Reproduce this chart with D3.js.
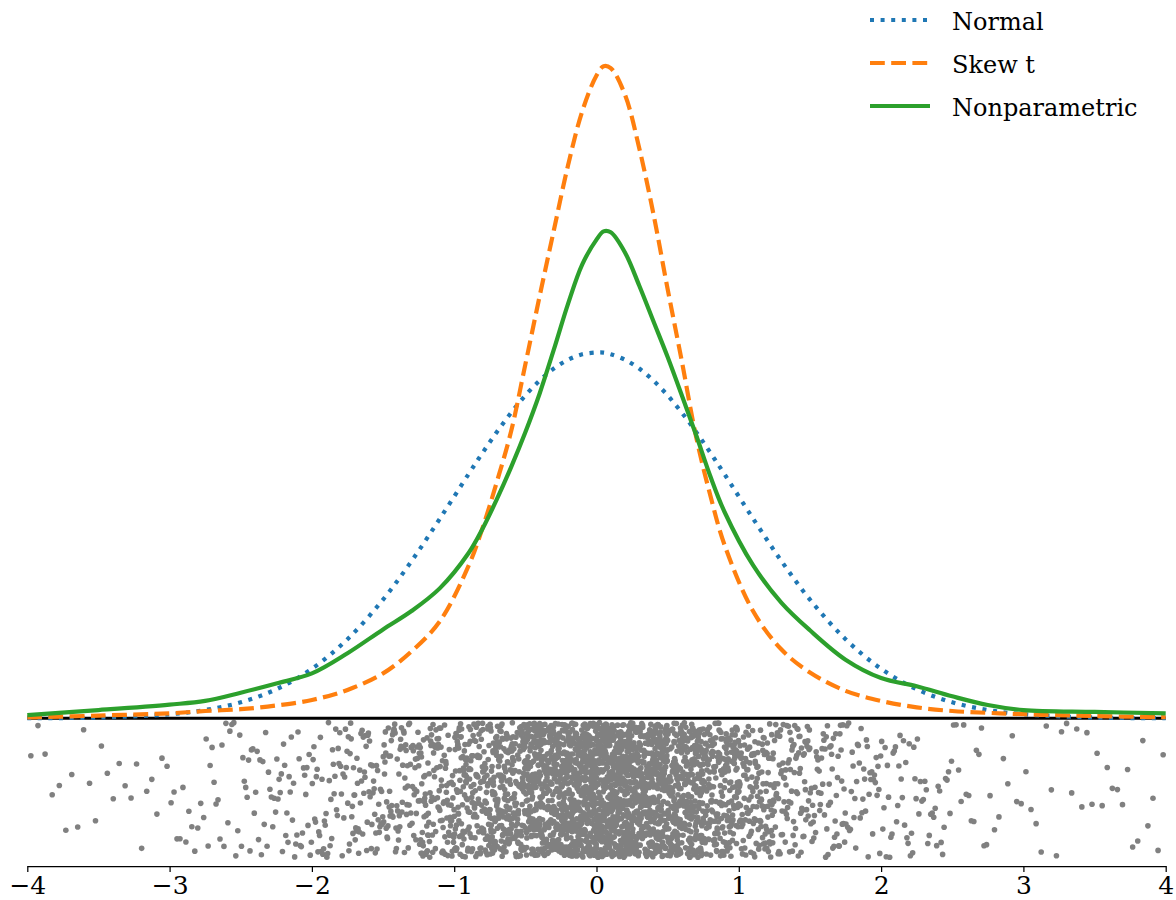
<!DOCTYPE html>
<html>
<head>
<meta charset="utf-8">
<script src="https://cdn.jsdelivr.net/npm/d3@7"></script>
<style>
  body { margin: 0; background: #fff; }
  .axis text { font-family: "DejaVu Serif", serif; font-size: 25px; fill: #000; }
  .axis path, .axis line { stroke: #000; stroke-width: 1.25; }
  .legend text { font-family: "DejaVu Serif", serif; font-size: 24px; fill: #000; }
</style>
</head>
<body>
<div id="chart"></div>
<script>
// grid the three densities are read on
var xGrid = [-4, -3.5, -3, -2.75, -2.5, -2.25, -2, -1.75, -1.5, -1.3, -1.1, -0.9, -0.8, -0.7, -0.6,
  -0.5, -0.4, -0.3, -0.2, -0.1, 0, 0.05, 0.1, 0.2, 0.3, 0.4, 0.5, 0.6, 0.7, 0.8, 0.9, 1.1, 1.3, 1.5,
  1.75, 2, 2.25, 2.5, 2.75, 3, 3.5, 4];

var normalDensity = [0.0001, 0.0009, 0.0044, 0.0091, 0.0175, 0.0317, 0.054, 0.0863, 0.1295, 0.1714,
  0.2179, 0.2661, 0.2897, 0.3123, 0.3332, 0.3521, 0.3683, 0.3814, 0.391, 0.397, 0.3989, 0.3988, 0.397,
  0.391, 0.3814, 0.3683, 0.3521, 0.3332, 0.3123, 0.2897, 0.2661, 0.2179, 0.1714, 0.1295, 0.0863, 0.054,
  0.0317, 0.0175, 0.0091, 0.0044, 0.0009, 0.0001];

var skewTDensity = [0.001, 0.003, 0.0055, 0.008, 0.010, 0.014, 0.020, 0.031, 0.049, 0.073, 0.106,
  0.166, 0.208, 0.258, 0.313, 0.386, 0.46, 0.532, 0.603, 0.662, 0.701, 0.711, 0.709, 0.680, 0.622,
  0.550, 0.468, 0.389, 0.307, 0.243, 0.189, 0.117, 0.075, 0.050, 0.030, 0.019, 0.012, 0.008, 0.006,
  0.0045, 0.0025, 0.0012];

var nonparamDensity = [0.0036, 0.009, 0.015, 0.019, 0.028, 0.038, 0.049, 0.071, 0.097, 0.117, 0.142,
  0.180, 0.207, 0.239, 0.274, 0.312, 0.354, 0.402, 0.452, 0.495, 0.522, 0.531, 0.530, 0.508, 0.472,
  0.433, 0.394, 0.352, 0.309, 0.264, 0.225, 0.167, 0.126, 0.096, 0.064, 0.044, 0.035, 0.024, 0.0145,
  0.009, 0.007, 0.0055];

// observations below the baseline: counts per bin (bin lower edges, width 0.25)
var binWidth = 0.25;
var binStarts = [-4, -3.75, -3.5, -3.25, -3, -2.75, -2.5, -2.25, -2, -1.75, -1.5, -1.25, -1, -0.75,
  -0.5, -0.25, 0, 0.25, 0.5, 0.75, 1, 1.25, 1.5, 1.75, 2, 2.25, 2.5, 2.75, 3, 3.25, 3.5, 3.75];
var binCounts = [5, 6, 6, 7, 12, 18, 25, 32, 44, 62, 84, 120, 170, 240, 340, 450,
  500, 420, 320, 210, 140, 90, 60, 40, 31, 24, 14, 8, 7, 7, 7, 7];

var tickValues = [-4, -3, -2, -1, 0, 1, 2, 3, 4];
var tickLabels = ["\u22124", "\u22123", "\u22122", "\u22121", "0", "1", "2", "3", "4"];

var seriesNames = ["Normal", "Skew t", "Nonparametric"];
var seriesColors = ["#1f77b4", "#ff7f0e", "#2ca02c"];
var seriesDash = ["4,6.6", "14.8,6.4", null];

var width = 1176, height = 900;

var svg = d3.select("#chart").append("svg")
  .attr("width", width)
  .attr("height", height);

var x = d3.scaleLinear()
  .domain([-4, 4])
  .range([27.3, 1165.7]);

var y = d3.scaleLinear()
  .domain([-0.161, 0.78])
  .range([866, 3]);

// strip of observations: evenly spread inside each bin, vertical jitter from a fixed integer hash
function jitter(k) {
  var h = Math.imul(k ^ 0x9e3779b9, 0x85ebca6b);
  h ^= h >>> 13;
  h = Math.imul(h, 0xc2b2ae35);
  h ^= h >>> 16;
  return (h >>> 0) / 4294967296;
}

var dots = [];
var k = 0;
binStarts.forEach(function(lo, i) {
  var n = binCounts[i];
  for (var j = 0; j < n; j++) {
    k++;
    dots.push({ x: lo + (j + 0.5) / n * binWidth, y: -0.0045 - jitter(k) * 0.147 });
  }
});

svg.append("g")
  .selectAll("circle")
  .data(dots)
  .enter().append("circle")
  .attr("cx", function(d) { return x(d.x); })
  .attr("cy", function(d) { return y(d.y); })
  .attr("r", 2.8)
  .attr("fill", "#808080");

// zero line
svg.append("line")
  .attr("x1", x(-4)).attr("x2", x(4))
  .attr("y1", y(0)).attr("y2", y(0))
  .attr("stroke", "#000")
  .attr("stroke-width", 3);

var line = d3.line()
  .curve(d3.curveCatmullRom.alpha(0.5))
  .x(function(d) { return x(d[0]); })
  .y(function(d) { return y(d[1]); });

var series = [normalDensity, skewTDensity, nonparamDensity].map(function(vals) {
  return xGrid.map(function(xv, i) { return [xv, vals[i]]; });
});

svg.append("g")
  .selectAll("path")
  .data(series)
  .enter().append("path")
  .attr("d", line)
  .attr("fill", "none")
  .attr("stroke", function(d, i) { return seriesColors[i]; })
  .attr("stroke-width", 4.2)
  .attr("stroke-dasharray", function(d, i) { return seriesDash[i]; });

// x axis
var xAxis = d3.axisBottom(x)
  .tickValues(tickValues)
  .tickFormat(function(d, i) { return tickLabels[i]; })
  .tickSize(6)
  .tickSizeOuter(0);

var axisG = svg.append("g")
  .attr("class", "axis")
  .attr("transform", "translate(0," + y(-0.161) + ")")
  .call(xAxis);
axisG.selectAll("text").attr("y", 28).attr("dy", 0);

// legend
var legend = svg.append("g")
  .attr("class", "legend")
  .selectAll("g")
  .data(seriesNames)
  .enter().append("g")
  .attr("transform", function(d, i) { return "translate(870," + (20 + i * 43) + ")"; });

legend.append("line")
  .attr("x1", 0).attr("x2", 60)
  .attr("stroke", function(d, i) { return seriesColors[i]; })
  .attr("stroke-width", 4.2)
  .attr("stroke-dasharray", function(d, i) { return seriesDash[i]; });

legend.append("text")
  .attr("x", 82)
  .attr("y", 10)
  .text(function(d) { return d; });
</script>
</body>
</html>
